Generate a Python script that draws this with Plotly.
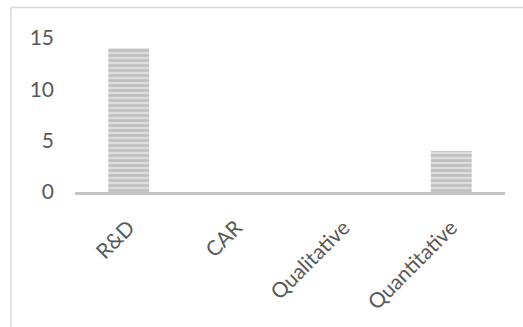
import plotly.graph_objects as go

categories = ["R&D", "CAR", "Qualitative", "Quantitative"]
values = [14, 0, 0, 4]
y_ticks = [0, 5, 10, 15]

L, R, T, B = 75, 18, 38, 135
W, H = 523, 327
pw, ph = W - L - R, H - T - B

fig = go.Figure(go.Bar(
    x=categories, y=values, width=0.38,
    marker=dict(color="#d9d9d9", line=dict(width=0),
                pattern=dict(shape="-", size=5, solidity=0.5,
                             fgcolor="#a0a0a0", bgcolor="#dcdcdc")),
))

font = dict(family="Lato, Carlito, sans-serif", size=21, color="#595959")
fig.update_layout(
    width=W, height=H, margin=dict(l=L, r=R, t=T, b=B),
    paper_bgcolor="white", plot_bgcolor="white", showlegend=False,
    font=font,
    xaxis=dict(showline=True, linecolor="#c4c4c4", linewidth=3, tickangle=-45,
               showgrid=False, ticks="", tickfont=font, ticklabelstandoff=12),
    yaxis=dict(range=[0, 15], tickvals=y_ticks, showgrid=False, zeroline=False,
               showline=False, ticks="", tickfont=font, ticklabelstandoff=20),
    shapes=[dict(type="rect", xref="paper", yref="paper",
                 x0=(11 - L) / pw, x1=2, y0=-2, y1=(H - B - 7.5) / ph,
                 line=dict(color="#d9d9d9", width=1.5), layer="below")],
)
fig.write_html("out.html")
